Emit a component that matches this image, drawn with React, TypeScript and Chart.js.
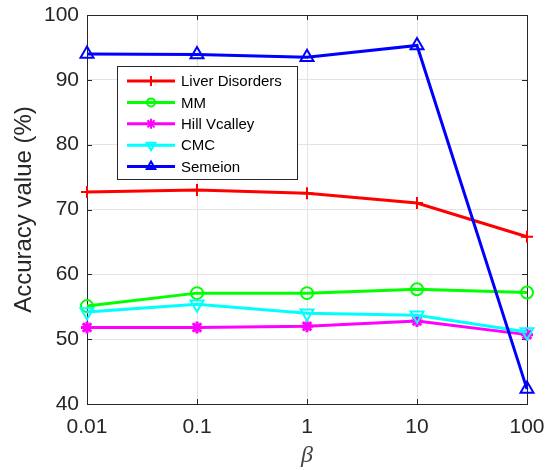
import React, { useEffect, useRef } from "react";
import { Chart, registerables } from "chart.js";

Chart.register(...registerables);

const categories = ["0.01", "0.1", "1", "10", "100"];
const liverDisorders = [72.7, 73.0, 72.5, 71.0, 65.8];
const mm = [55.1, 57.1, 57.1, 57.7, 57.2];
const hillValley = [51.8, 51.8, 52.0, 52.8, 50.7];
const cmc = [54.2, 55.4, 54.0, 53.7, 51.1];
const semeion = [94.0, 93.9, 93.5, 95.3, 42.3];
const seriesNames = ["Liver Disorders", "MM", "Hill Vcalley", "CMC", "Semeion"];
const seriesColors = ["#ff0000", "#00ff00", "#ff00ff", "#00ffff", "#0000ff"];
const seriesMarkers = ["cross", "circle", "star", "triangleDown", "triangle"];

const AXIS = "#262626";
const FONT = "'Liberation Sans', Arial, Helvetica, sans-serif";

function drawMarker(ctx: CanvasRenderingContext2D, kind: string, x: number, y: number, r: number, color: string, lw: number) {
  ctx.save();
  ctx.strokeStyle = color;
  ctx.lineWidth = lw;
  ctx.beginPath();
  if (kind === "cross") {
    ctx.moveTo(x - r, y); ctx.lineTo(x + r, y);
    ctx.moveTo(x, y - r); ctx.lineTo(x, y + r);
  } else if (kind === "circle") {
    ctx.arc(x, y, r, 0, Math.PI * 2);
  } else if (kind === "star") {
    ctx.moveTo(x - r, y); ctx.lineTo(x + r, y);
    ctx.moveTo(x, y - r); ctx.lineTo(x, y + r);
    const d = r * 0.707;
    ctx.moveTo(x - d, y - d); ctx.lineTo(x + d, y + d);
    ctx.moveTo(x - d, y + d); ctx.lineTo(x + d, y - d);
  } else if (kind === "triangle" || kind === "triangleDown") {
    const s = kind === "triangle" ? 1 : -1;
    ctx.moveTo(x, y - s * r);
    ctx.lineTo(x + r * 0.866, y + s * r * 0.5);
    ctx.lineTo(x - r * 0.866, y + s * r * 0.5);
    ctx.closePath();
  }
  ctx.stroke();
  ctx.restore();
}

const boxPlugin = {
  id: "matlabBox",
  beforeDatasetsDraw(chart: any) {
    const { ctx, chartArea: a } = chart;
    const xs = chart.scales.x;
    const ys = chart.scales.y;
    ctx.save();
    ctx.strokeStyle = AXIS;
    ctx.lineWidth = 1;
    ctx.beginPath();
    const tl = 5;
    xs.ticks.forEach((_t: any, i: number) => {
      const px = Math.round(xs.getPixelForTick(i)) + 0.5;
      ctx.moveTo(px, a.bottom); ctx.lineTo(px, a.bottom - tl);
      ctx.moveTo(px, a.top); ctx.lineTo(px, a.top + tl);
    });
    ys.ticks.forEach((_t: any, i: number) => {
      const py = Math.round(ys.getPixelForTick(i)) + 0.5;
      ctx.moveTo(a.left, py); ctx.lineTo(a.left + tl, py);
      ctx.moveTo(a.right, py); ctx.lineTo(a.right - tl, py);
    });
    ctx.stroke();
    ctx.strokeRect(Math.round(a.left) + 0.5, Math.round(a.top) + 0.5, Math.round(a.right - a.left), Math.round(a.bottom - a.top));
    ctx.restore();
  },
  afterDatasetsDraw(chart: any) {
    const { ctx } = chart;
    const bx = 117.5, by = 66.5, bw = 180, bh = 113;
    ctx.save();
    ctx.fillStyle = "#ffffff";
    ctx.fillRect(bx, by, bw, bh);
    ctx.strokeStyle = AXIS;
    ctx.lineWidth = 1;
    ctx.strokeRect(bx, by, bw, bh);
    ctx.font = `15px ${FONT}`;
    ctx.textBaseline = "middle";
    ctx.textAlign = "left";
    seriesNames.forEach((name, i) => {
      const y = 81 + i * 21.4;
      ctx.strokeStyle = seriesColors[i];
      ctx.lineWidth = 3;
      ctx.beginPath();
      ctx.moveTo(127, y); ctx.lineTo(175, y);
      ctx.stroke();
      drawMarker(ctx, seriesMarkers[i], 151, y, seriesMarkers[i] === "circle" ? 4 : 5, seriesColors[i], 2);
      ctx.fillStyle = "#000000";
      ctx.fillText(name, 181, y + 1);
    });
    ctx.restore();
  },
};

export default function App() {
  const ref = useRef<HTMLCanvasElement>(null);
  useEffect(() => {
    if (!ref.current) return;
    const series = [liverDisorders, mm, hillValley, cmc, semeion];
    const styleMap: Record<string, any> = {
      cross: { pointStyle: "cross", pointRadius: 6, pointBorderWidth: 2, pointRotation: 0 },
      circle: { pointStyle: "circle", pointRadius: 6, pointBorderWidth: 2, pointRotation: 0 },
      star: { pointStyle: "star", pointRadius: 6, pointBorderWidth: 3, pointRotation: 0 },
      triangleDown: { pointStyle: "triangle", pointRadius: 7.5, pointBorderWidth: 2, pointRotation: 180 },
      triangle: { pointStyle: "triangle", pointRadius: 7.5, pointBorderWidth: 2, pointRotation: 0 },
    };
    const chart = new Chart(ref.current, {
      type: "line",
      data: {
        labels: categories,
        datasets: series.map((d, i) => ({
          label: seriesNames[i],
          data: d,
          borderColor: seriesColors[i],
          backgroundColor: "rgba(0,0,0,0)",
          pointBackgroundColor: "rgba(0,0,0,0)",
          pointBorderColor: seriesColors[i],
          borderWidth: 3,
          tension: 0,
          order: 4 - i,
          ...styleMap[seriesMarkers[i]],
        })),
      },
      options: {
        responsive: false,
        animation: false,
        layout: { padding: { left: 0, right: 19, top: 15, bottom: 0 } },
        plugins: { legend: { display: false }, tooltip: { enabled: false } },
        scales: {
          x: {
            type: "category",
            offset: false,
            grid: { color: "#e3e3e3", drawTicks: false, lineWidth: 1 },
            border: { display: false },
            ticks: { color: AXIS, font: { family: FONT, size: 21 }, padding: 11, maxRotation: 0 },
            title: {
              display: true,
              text: "β",
              color: "#444444",
              font: { family: "'Liberation Serif', 'DejaVu Serif', serif", size: 24, style: "italic", lineHeight: 1 },
              padding: { top: 0, bottom: 2 },
            },
            afterFit(scale: any) {
              scale.height = 66;
              scale.paddingLeft = 0;
              scale.paddingRight = 0;
            },
          },
          y: {
            min: 40,
            max: 100,
            grid: { color: "#e3e3e3", drawTicks: false, lineWidth: 1 },
            border: { display: false },
            ticks: { stepSize: 10, color: AXIS, font: { family: FONT, size: 21 }, padding: 8 },
            title: {
              display: true,
              text: "Accuracy value (%)",
              color: AXIS,
              font: { family: FONT, size: 24, lineHeight: 1.2 },
              padding: { top: 10, bottom: 0 },
            },
            afterFit(scale: any) {
              scale.width = 87;
              scale.paddingTop = 0;
              scale.paddingBottom = 0;
            },
          },
        },
      } as any,
      plugins: [boxPlugin],
    });
    return () => chart.destroy();
  }, []);
  return (
    <div style={{ position: "absolute", left: 0, top: 0, width: 546, height: 470, background: "#ffffff" }}>
      <canvas ref={ref} width={546} height={470} />
    </div>
  );
}
